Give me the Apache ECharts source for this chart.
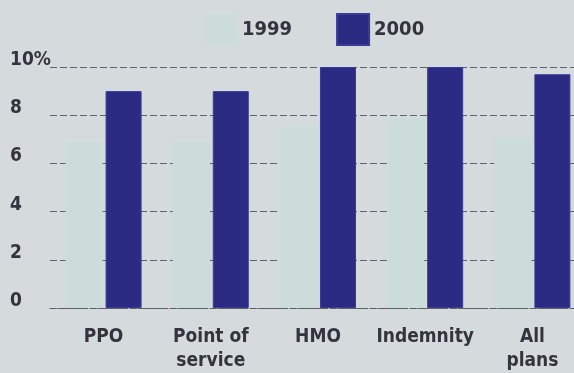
<!DOCTYPE html>
<html>
<head>
<meta charset="utf-8">
<script src="https://cdn.jsdelivr.net/npm/echarts@6/dist/echarts.min.js"></script>
<style>
  html, body { margin: 0; padding: 0; background: #d5dadd; overflow: hidden; }
  /* the plot runs a little past the right edge of the page */
  #chart { width: 592px; height: 373px; }
</style>
</head>
<body>
<div id="chart"></div>
<script>
// Premium increase by plan type, 1999 vs 2000 (%)
const categories = ['PPO', 'Point of\nservice', 'HMO', 'Indemnity', 'All\nplans'];
const values1999 = [6.9, 6.9, 7.5, 7.9, 7.1];
const values2000 = [9.0, 9.0, 10.0, 10.0, 9.7];
const yTickLabels = ['0', '2', '4', '6', '8', '10%'];

const FONT = "'Liberation Sans Narrow', 'DejaVu Sans Condensed', 'Roboto Condensed', sans-serif";
const TEXT = '#34343e';

const chart = echarts.init(document.getElementById('chart'), null, { renderer: 'canvas' });

chart.setOption({
  backgroundColor: '#d5dadd',
  animation: false,
  legend: {
    left: 200,
    top: 8,
    itemWidth: 32,
    itemHeight: 31,
    itemGap: 44,
    icon: 'rect',
    textStyle: { fontFamily: FONT, fontWeight: 'bold', fontSize: 20, color: TEXT },
    data: ['1999', '2000']
  },
  grid: { left: 50, top: 67, width: 536, height: 243 },
  xAxis: {
    type: 'category',
    data: categories,
    axisTick: { show: false },
    axisLine: { show: true, lineStyle: { color: '#5c6068', width: 1, type: [6, 2] } },
    axisLabel: {
      margin: 17,
      fontFamily: FONT, fontWeight: 'bold', fontSize: 19, lineHeight: 24, color: TEXT,
      interval: 0
    }
  },
  yAxis: {
    type: 'value',
    min: 0, max: 10, interval: 2,
    axisLine: { show: false },
    axisTick: { show: false },
    splitLine: { show: true, lineStyle: { color: '#5f646c', width: 1, type: [7, 3] } },
    axisLabel: {
      align: 'left',
      verticalAlign: 'bottom',
      lineHeight: 14,
      margin: 40,
      fontFamily: FONT, fontWeight: 'bold', fontSize: 19, color: TEXT,
      formatter: v => yTickLabels[Math.round(v / 2)]
    }
  },
  series: [
    {
      name: '1999',
      type: 'bar',
      data: values1999,
      barWidth: 37,
      barGap: '8%',
      itemStyle: { color: '#cbdcda' },
      z: 3
    },
    {
      name: '2000',
      type: 'bar',
      data: values2000,
      barWidth: 36,
      itemStyle: { color: '#2c2b84', borderColor: '#3a3a98', borderWidth: 1 },
      z: 3
    }
  ]
});
</script>
</body>
</html>
